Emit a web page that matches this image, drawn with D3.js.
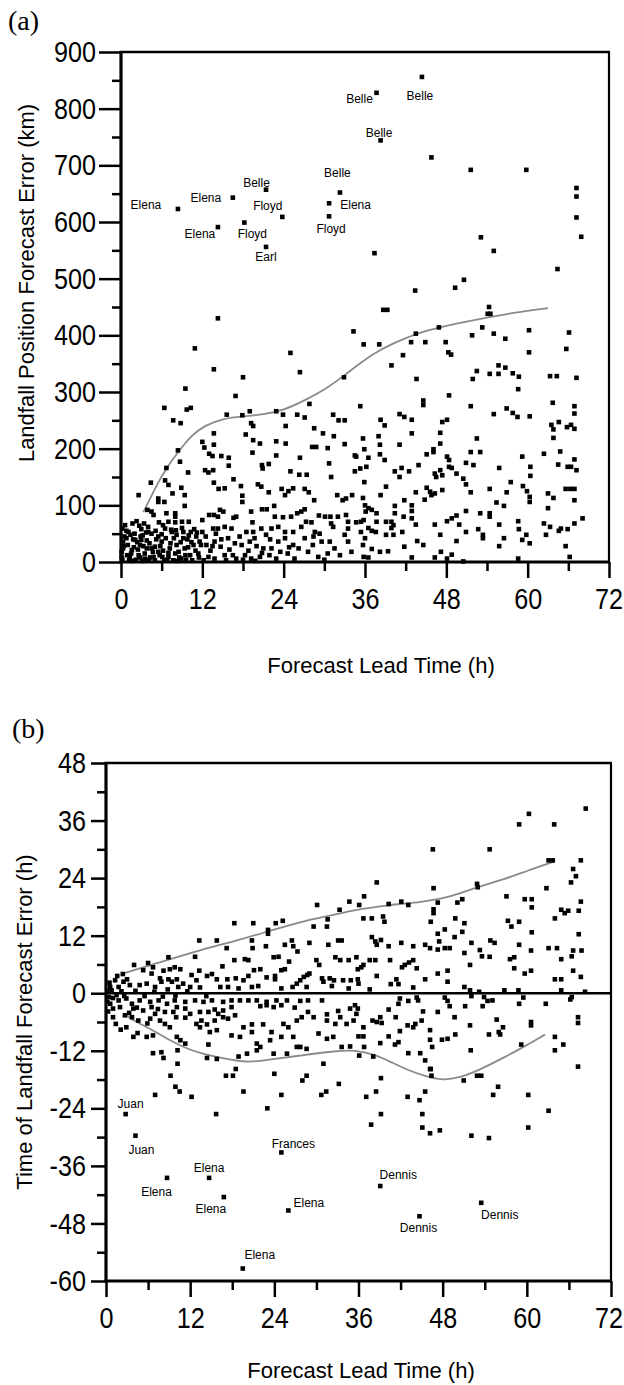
<!DOCTYPE html>
<html>
<head>
<meta charset="utf-8">
<script src="https://d3js.org/d3.v7.min.js"></script>
<style>
body { margin: 0; background: #fff; }
.tick text { font-family: "Liberation Sans", Arial, sans-serif; font-size: 30px; fill: #000; }
.ttl { font-family: "Liberation Sans", Arial, sans-serif; font-size: 22px; fill: #000; }
.storm { font-family: "Liberation Sans", Arial, sans-serif; font-size: 12px; fill: #000; }
.panel { font-family: "Liberation Serif", "Times New Roman", serif; font-size: 28px; fill: #000; }
</style>
</head>
<body>
<div id="chart"></div>
<script>
/* ---- PANEL (a): landfall position error (km) vs lead time (h) ---- */
var stormNamesA = ["Belle","Belle","Belle","Belle","Belle","Elena","Elena","Floyd","Elena","Elena","Floyd","Floyd","Earl"];
var stormPtsA = [[44.4,856],[37.7,828],[38.3,744],[32.3,652],[21.4,657],[16.5,643],[8.4,623],[23.8,609],[30.7,633],[14.3,591],[18.2,599],[30.7,610],[21.4,556]];

var upperA = [[45.8,714],[51.6,692],[59.8,692],[67.2,660],[67.2,645],[37.4,545],[53.1,573],[55,549],[64.4,517],[67.2,608],[67.9,574],
  [50.6,498],[49.3,484],[43.4,479],[14.3,430],[38.7,445],[39.3,445],[54.3,450],[54.1,438],[54.5,438],[34.3,407],[43.5,403],[46.9,414],
  [51.8,400],[53.3,414],[55,403],[56.7,394],[60.2,409],[66.1,405],[10.9,377],[25,369],[35.8,384],[38.1,384],[42.8,388],[44.9,388],
  [47.9,388],[48.3,370],[48.7,366],[41.6,365],[39.9,347],[55.7,347],[56.7,343],[60.2,370],[65.7,376],[13.7,340],[26.4,335],[18,326],
  [32.9,326],[43.6,323],[51.9,323],[52.5,337],[54.4,332],[55.7,332],[57.8,333],[58.7,327],[63.3,328],[64.3,328],[67.2,325]];

var midA = [[9.5,306],[16.9,293],[6.4,272],[9.7,269],[10.3,272],[35.3,275],[7.7,250],[8.8,245],[15.6,260],[17.9,259],[19,266],[22.9,266],
  [23.9,260],[26,260],[27.8,279],[27.1,255],[31.3,260],[32.1,250],[33,250],[13.7,227],[18.4,225],[19.2,245],[19.5,240],[24.3,240],
  [28.5,236],[29.8,227],[31.4,222],[12,212],[12.3,202],[13.7,207],[19.5,215],[20.5,209],[22.9,213],[24.3,209],[28.2,203],[28.8,203],
  [30.5,201],[33,208],[35.7,218],[8.4,197],[8.7,177],[13,191],[13.5,187],[14.8,187],[15.9,184],[15.9,170],[19.4,193],[20.8,171],
  [20.9,165],[21.8,173],[22.9,188],[26.4,184],[25,160],[26.3,154],[27.4,154],[30.7,174],[31,150],[34.5,188],[34.7,186],[34.5,160],
  [35.3,165],[6.7,166],[6.5,144],[7,136],[9.9,158],[12.4,162],[12.9,158],[13.6,162],[16.6,146],[13.7,140],[14.4,129],[15.3,130],
  [17.7,134],[17.9,117],[17.9,106],[20.2,137],[20.7,133],[21.8,123],[23.7,129],[24.2,118],[24.7,125],[25.4,130],[27.1,129],[27.7,123],
  [28.5,109],[31.9,118],[32.7,109],[33.2,112],[34.1,118],[35.7,113],[2.6,118],[4.4,140],[5.5,112],[5.5,106],[6.4,106],[7.6,121],
  [8.9,131],[9.4,118],[9.4,99],[3.9,92],[4.5,89],[4.8,83],[6.7,86],[8,86],[8,80],[7,71],[6.2,65],[8,70],[9,71],[10,71],[12,74],
  [13,83],[13.7,83],[14.3,80],[14.6,92],[15.1,89],[16.6,78],[17,80],[19.2,89],[19.4,70],[20.8,93],[21.5,93],[22.6,99],[22.7,80],
  [23.9,79],[25.1,80],[26,86],[26.6,89],[27.1,93],[28.1,70],[27.3,71],[29.2,82],[30.1,80],[30.9,80],[31,68],[32,80],[33.2,83],
  [33.5,71],[34.7,70],[35.4,71]];

var lowA = [[0.2,59],[1.1,53],[1.7,68],[2.7,64],[0.8,42],[2.1,39],[3,39],[4,53],[4.5,50],[5.5,45],[6.5,59],[7.5,53],[8.2,48],[9.2,53],
  [10.3,53],[11.1,45],[12,53],[13.6,59],[14.3,59],[15.3,62],[16.3,59],[18.5,53],[19.5,53],[20.7,59],[22.2,59],[23.2,62],[24.2,53],
  [25.4,53],[26.6,62],[28.6,53],[29.3,50],[31.3,62],[33.5,59],[35.4,53],[0.3,24],[1.6,21],[2.8,30],[3.8,24],[5,27],[6,36],[7.2,24],
  [8.2,30],[9.4,24],[10.7,30],[11.6,36],[12.6,30],[13.8,36],[14.7,27],[15.8,42],[16.8,33],[17.8,30],[19,36],[19.7,42],[21,24],
  [22.2,24],[23.2,36],[24.2,42],[25.4,30],[27.1,42],[28.3,30],[29.6,36],[30.8,36],[31.5,24],[33.5,36],[34,18],[35.7,30],[0.1,9],
  [1.3,9],[2.6,12],[3.5,6],[4.8,9],[5.7,12],[7,9],[8,15],[8.9,6],[10.2,12],[11.4,15],[12.9,9],[13.8,6],[15.3,12],[17,6],[18.3,12],
  [19.2,6],[20.5,9],[21.9,12],[22.9,6],[24.6,15],[25.6,6],[27.6,18],[29.1,9],[30.5,15],[0.5,45],[1,30],[1.5,15],[2,50],[2.5,22],
  [3.2,47],[3.5,15],[4.2,33],[5,3],[5.2,40],[6.2,20],[6.8,4],[7.8,42],[8.5,18],[9.8,40],[10.5,3],[11,20],[0.3,36],[1.2,3],[2.2,4],
  [3,58],[4,62],[4.7,18],[6,49],[7,16],[8.8,35],[9.5,12],[10,47],[11.5,8],[0.8,55],[1.8,40],[2.8,8],[3.8,38],[5.8,28],[7.4,57],
  [9,60],[10.8,58],[0.1,18],[12.5,45],[13.2,20],[14,50],[15.5,3],[16,22],[17.5,45],[18.8,20],[20,28],
  [0.4,28],[0.9,12],[1.4,48],[1.9,26],[2.4,35],[2.9,45],[3.3,28],[3.7,52],[4.3,8],[4.5,24],[5.1,55],[5.5,18],[6.1,9],[6.6,42],
  [7.3,33],[7.7,3],[8.1,56],[8.6,8],[9.2,42],[9.9,26],[10.4,35],[11.2,52],[11.8,30],[0.6,65],[2.3,72],[3.4,68],[5.6,70],[0.2,4],
  [1.7,2],[3.1,2],[4.1,4],[6.4,3],[8.3,2],[9.6,4],[12.2,3],[13.5,28],[14.8,40],[16.5,12],[18,4],[20.8,16],[22,40],[23.5,18],
  [26.2,24],[28.4,45],[30,4],[32.3,12],[33,48],[24.8,26],[21.4,48],[19.8,2]];

var rightA = [[58.6,305],[48.4,294],[44.6,285],[44.6,277],[51.6,275],[56.9,271],[57.8,263],[58.5,256],[55,261],[60.3,257],[63.7,281],
  [66.9,275],[66.9,262],[41.1,261],[41.8,256],[42.9,251],[38.3,251],[38.9,241],[47.4,247],[48.1,251],[38,222],[42.9,227],[47.1,228],
  [52.5,218],[63.5,242],[63.8,234],[64.6,247],[63.8,219],[65.8,238],[66.4,242],[66.9,235],[38.2,207],[35.9,199],[38.2,190],[38.9,180],
  [41.1,207],[47.1,209],[46.1,199],[46.1,194],[45.1,190],[51.6,194],[53,194],[48.1,186],[48.4,180],[59.2,186],[62.4,191],[64.8,195],
  [36.5,184],[36.2,168],[40.4,160],[41.4,166],[41.1,150],[42.5,160],[43.9,171],[46.3,156],[47.1,162],[46.5,150],[47.4,153],[48.4,168],
  [48.8,166],[49.5,156],[50.9,175],[52,171],[55.8,166],[60.4,168],[60.4,152],[64.5,172],[65.9,168],[66.4,168],[67.2,162],[66.9,181],
  [35.9,141],[50.5,147],[50.9,137],[57.5,141],[59.3,134],[59.9,125],[60.3,115],[60.3,106],[39.1,133],[38.3,118],[43.5,123],[45.1,131],
  [45.6,124],[44.8,110],[45.8,118],[46.3,121],[47.4,127],[41.8,109],[40.4,99],[42.9,100],[42.9,90],[51.6,123],[54.4,129],[56.9,123],
  [55.4,105],[56.5,99],[63,121],[63.8,113],[63,95],[65.6,129],[66.3,129],[66.9,129],[66.9,109],[36,100],[36.5,95],[36.1,89],[37,92],
  [37.7,86],[40.4,86],[41.7,80],[42.9,77],[50.9,90],[53,86],[54.4,86],[54.4,80],[68.1,77],[35.8,74],[36.5,60],[37,55],[37.7,71],
  [37.6,53],[36,42],[39.1,71],[39.9,71],[40.2,65],[39.9,60],[39.1,48],[40.2,48],[41.5,53],[43.5,66],[46.3,66],[47.1,48],[48.1,72],
  [48.8,77],[49.5,82],[49.9,66],[50.9,53],[52.7,58],[53.4,48],[53.4,42],[55.8,66],[56.5,42],[58.6,72],[58.7,58],[59.2,39],[59.8,48],
  [60.3,33],[62.4,68],[63.3,62],[62.7,48],[64.6,55],[64.9,59],[65.9,58],[66.9,68],[49.5,37],[43.7,37],[44.6,30],[41.8,27],[37,23],
  [38.2,18],[39.4,19],[47.2,18],[48.8,13],[55.8,28],[65.6,28],[35.8,9],[36.5,8],[42.9,8],[46.3,8],[48.1,6],[50.5,1],[58.6,6],[66.2,9]];

var curveA = [[3.3,88],[5.5,141],[6.5,162],[8.4,194],[10.4,224],[12.4,241],[15,253],[18,257],[21,260],[24,268],[26.6,282],[30.5,307],
  [33,330],[37.3,369],[40,385],[43.5,403],[47,414],[50,422],[54.3,432],[58,440],[63,448]];

/* ---- PANEL (b): landfall timing error (h) vs lead time (h) ---- */
var stormNamesB = ["Juan","Juan","Frances","Elena","Elena","Elena","Elena","Dennis","Dennis","Dennis","Elena"];
var stormPtsB = [[2.8,-25.2],[4.2,-29.7],[25,-33.2],[14.7,-38.5],[8.7,-38.5],[16.8,-42.5],[26,-45.3],[39.1,-40.2],[53.5,-43.7],[44.7,-46.5],[19.5,-57.4]];

var topB = [[46.6,30.0],[54.7,30.0],[58.9,35.2],[60.3,37.4],[63.9,35.2],[68.4,38.5],[63.1,27.7],[63.7,27.7],[67.7,27.7],[66.6,25.9],[67.0,24.4]];

var leftB = [[30.1,18.4],[34.7,19.1],[33.3,17.4],[18.3,14.6],[21.0,14.6],[24.2,14.6],[25.2,15.1],[29.6,13.9],[31.5,13.9],[31.6,15.4],
  [23.1,13.2],[23.1,12.4],[13.3,11.0],[15.8,11.0],[17.2,9.4],[20.8,11.0],[20.9,9.4],[22.8,9.8],[25.5,10.1],[26.5,11.0],[26.7,9.8],
  [27.3,8.7],[29.0,10.5],[31.7,10.1],[33.1,11.0],[33.6,11.0],[8.9,7.5],[12.7,7.6],[18.3,6.9],[19.8,7.1],[20.3,6.9],[23.9,7.5],[24.6,7.6],
  [26.1,6.6],[30.0,6.9],[30.4,5.9],[32.7,7.5],[33.4,6.9],[34.6,6.9],[2.4,4.0],[5.3,4.8],[6.7,5.4],[6.5,4.1],[8.2,4.7],[9.1,5.0],[9.8,5.4],
  [10.6,5.0],[7.7,3.1],[8.9,2.9],[9.4,2.4],[10.1,2.9],[11.0,2.0],[13.3,4.7],[14.4,3.6],[15.1,4.0],[12.9,2.7],[15.8,2.9],[17.3,2.9],
  [18.5,3.1],[19.6,2.7],[20.3,3.6],[21.1,4.8],[22.0,5.0],[22.9,3.3],[24.1,3.6],[24.1,2.9],[25.0,4.8],[25.5,5.0],[26.6,1.3],[27.2,2.0],
  [27.7,2.7],[28.2,3.4],[28.7,3.8],[29.0,4.1],[30.8,3.1],[31.0,2.4],[31.9,3.1],[32.5,2.7],[33.8,2.7],[34.9,2.7],[32.2,1.5],[34.6,1.0],
  [20.8,1.3],[21.7,1.5],[1.3,2.7],[2.5,2.4],[3.4,1.7],[0.6,1.3],[1.8,1.3],[4.8,1.7],[5.8,2.0],[7.0,1.3],[7.9,2.4],[10.3,1.3],[12.0,1.3],
  [13.4,1.2],[16.3,1.3],[17.4,1.3],[18.9,1.0],[25.0,1.0],[28.6,1.3],[0.2,0.5],[0.4,-0.8],[0.8,0.6],[1.5,-0.4],[2.2,0.4],[0.3,-3.8],
  [0.5,2.2],[1.0,-1.0],[2.6,-0.6],[0.2,-1.8],
  [0.6,-2.2],[1.8,-1.5],[2.9,-1.1],[3.7,-2.2],[4.8,-1.5],[6.3,-1.8],[7.5,-1.5],[8.7,-2.2],[9.8,-1.5],[11.3,-1.8],[12.7,-1.5],[13.9,-1.8],
  [15.1,-1.5],[16.7,-1.8],[17.9,-1.5],[19.1,-1.5],[20.3,-1.5],[21.5,-1.5],[22.9,-1.8],[24.3,-1.5],[25.8,-1.5],[27.7,-1.6],[28.8,-1.5],
  [30.8,-1.5],[1.0,-3.2],[2.0,-2.9],[3.9,-3.2],[5.3,-3.6],[6.5,-2.9],[7.0,-4.3],[8.4,-3.9],[9.6,-3.9],[10.1,-2.9],[11.3,-3.2],[12.0,-4.3],
  [13.4,-3.9],[14.6,-3.9],[15.5,-3.4],[16.0,-4.3],[16.7,-3.6],[17.9,-2.9],[22.0,-2.7],[22.9,-2.5],[23.9,-2.9],[25.0,-2.5],[26.9,-3.0],
  [28.8,-3.9],[31.5,-4.4],[33.1,-3.7],[34.8,-3.2],[1.0,-5.0],[2.7,-4.6],[3.7,-5.0],[4.6,-5.7],[6.3,-5.3],[7.7,-5.7],[8.4,-6.4],
  [9.1,-7.1],[10.0,-5.0],[11.3,-5.1],[12.9,-6.4],[13.6,-5.7],[14.4,-6.5],[15.5,-5.7],[16.7,-5.0],[17.4,-5.3],[18.4,-4.6],[19.6,-7.1],
  [20.8,-6.5],[22.4,-6.5],[23.6,-8.1],[25.3,-6.4],[26.0,-7.1],[27.2,-5.7],[27.9,-5.0],[29.6,-5.0],[31.5,-5.7],[32.7,-6.4],[33.4,-5.0],
  [34.3,-6.4],[35.3,-5.7],[2.9,-7.1],[3.9,-9.1],[4.5,-8.3],[5.8,-9.1],[6.7,-8.8],[10.1,-9.1],[10.6,-9.8],[11.3,-10.5],[13.4,-7.1],
  [14.6,-10.7],[14.8,-8.1],[15.8,-7.7],[17.9,-8.8],[19.1,-9.1],[20.8,-8.1],[21.5,-10.5],[23.4,-9.8],[25.0,-9.1],[26.7,-9.1],[27.7,-11.2],
  [28.6,-11.6],[30.3,-8.4],[31.5,-9.5],[32.4,-9.1],[33.6,-11.2],[34.8,-11.1],[6.7,-12.5],[7.9,-12.3],[8.2,-13.5],[10.2,-11.9],[10.2,-14.7],
  [14.4,-13.5],[15.8,-13.7],[18.9,-13.2],[20.1,-12.6],[21.5,-11.9],[22.0,-11.2],[23.9,-12.6],[25.8,-12.6],[27.2,-11.2],[31.0,-14.7],
  [1.6,3.6],[3.0,2.9],[4.2,0.5],[5.5,-0.6],[6.9,0.3],[8.1,-0.7],[3.3,-4.1],[4.4,-3.0],[5.9,-6.3],[7.4,-3.3],[1.4,-6.4],[2.1,-7.6],
  [8.8,0.8],[11.6,0.4],[14.3,-0.6],[9.9,-0.5],[12.2,3.8],[16.6,5.6],[6.0,6.3],[4.0,5.9]];

var rightB = [[38.6,23.1],[46.7,21.9],[52.9,22.8],[53.0,22.1],[62.8,21.9],[66.3,23.1],[36.8,20.2],[36.1,18.4],[40.3,18.6],[42.1,19.1],
  [43.1,18.4],[47.3,18.9],[50.1,18.9],[50.8,19.6],[46.7,17.5],[46.7,16.7],[57.1,20.2],[59.7,19.6],[60.7,19.6],[60.7,17.9],[67.7,19.1],
  [67.4,17.2],[64.9,17.4],[65.4,16.7],[65.9,17.2],[36.7,15.6],[37.9,15.6],[39.5,16.0],[39.7,14.9],[46.3,14.9],[49.8,15.6],[51.1,14.6],
  [57.3,15.1],[57.8,13.9],[58.9,14.9],[64.0,15.6],[60.7,12.7],[67.4,12.3],[47.3,12.4],[48.3,13.3],[50.8,12.8],[49.7,11.7],[37.9,11.7],
  [38.4,10.8],[38.6,10.1],[39.2,11.1],[40.3,9.8],[42.1,10.5],[43.8,9.8],[45.5,10.1],[46.2,9.4],[47.3,9.1],[47.5,10.8],[48.3,9.4],
  [49.0,9.4],[51.1,8.4],[52.1,10.5],[53.3,9.0],[53.6,7.7],[54.8,11.0],[55.4,10.5],[54.7,7.6],[58.9,10.1],[60.6,8.9],[63.1,9.4],
  [64.3,9.4],[66.6,8.9],[66.4,7.7],[67.8,8.9],[64.9,7.1],[35.7,7.5],[36.4,5.4],[35.9,5.0],[37.6,6.9],[38.4,6.9],[36.7,5.9],[40.5,6.9],
  [42.2,5.4],[42.6,5.9],[43.2,6.4],[43.8,6.9],[44.3,5.2],[45.5,2.9],[47.3,4.1],[48.7,4.7],[48.7,2.4],[51.9,5.9],[57.6,7.1],[58.2,7.5],
  [58.2,5.2],[59.7,4.1],[60.6,4.7],[64.0,2.9],[64.9,2.9],[66.6,4.7],[67.7,3.4],[35.9,2.9],[36.0,2.0],[38.6,3.6],[40.6,1.9],[41.4,2.9],
  [41.7,1.9],[43.8,1.2],[37.6,0.8],[51.1,1.3],[51.9,0.6],[53.2,0.3],[56.8,0.6],[58.8,0.6],[64.9,0.6],[68.3,0.3],
  [41.9,-1.1],[41.7,-2.2],[43.1,-1.6],[44.3,-0.9],[44.5,-1.5],[48.3,-0.9],[48.7,-1.6],[49.0,-2.7],[52.1,-0.6],[53.7,-2.7],[53.9,-0.8],
  [54.4,-1.6],[55.1,-1.5],[58.9,-2.2],[59.5,-0.9],[62.7,-2.2],[66.2,-1.3],[66.4,-0.8],[35.5,-2.5],[35.9,-3.2],[35.7,-4.3],[40.3,-3.4],
  [51.2,-2.7],[45.2,-3.8],[47.3,-3.9],[49.7,-5.0],[55.7,-5.5],[36.7,-7.1],[38.0,-5.7],[38.6,-6.0],[39.1,-5.0],[39.3,-6.2],[41.3,-5.0],
  [45.0,-5.7],[43.0,-6.7],[43.8,-7.1],[44.1,-6.4],[51.9,-6.7],[60.6,-6.0],[60.6,-6.7],[56.6,-7.1],[56.0,-8.1],[56.2,-8.6],[67.3,-5.0],
  [67.3,-6.2],[41.9,-7.9],[46.2,-7.7],[46.2,-9.7],[49.8,-8.6],[48.7,-9.5],[47.9,-9.7],[54.6,-8.6],[36.0,-9.0],[36.7,-9.0],[40.3,-9.0],
  [39.1,-10.4],[41.2,-10.7],[41.7,-10.2],[46.5,-11.2],[59.2,-10.7],[64.0,-9.1],[65.2,-10.7],[64.0,-11.9],[36.8,-11.2],[38.1,-13.2],
  [43.1,-12.5],[44.8,-12.5],[45.5,-14.0],[52.0,-11.9],[46.2,-15.8],[67.3,-15.3],[36.1,-13.0]];

var lowB = [[9.2,-17.2],[17.1,-17.2],[18.1,-17.2],[18.5,-15.8],[24.0,-16.8],[28.0,-18.2],[28.6,-17.2],[33.2,-18.9],[9.9,-19.5],[10.5,-20.5],
  [12.2,-21.6],[7.0,-21.2],[19.6,-20.5],[25.0,-21.2],[30.7,-21.2],[31.4,-20.5],[37.1,-21.6],[38.5,-20.5],[39.2,-17.7],[43.0,-21.6],
  [44.7,-22.3],[45.5,-20.5],[46.4,-17.2],[46.3,-15.8],[51.0,-18.2],[52.9,-17.2],[53.5,-17.2],[55.2,-21.2],[55.9,-19.5],[60.2,-21.2],
  [63.1,-24.5],[15.7,-25.2],[23.0,-24.0],[37.8,-27.4],[39.2,-25.2],[45.1,-25.2],[45.1,-28.0],[46.2,-29.2],[47.6,-28.6],[52.1,-29.7],
  [54.6,-30.2],[60.2,-28.0]];

var curveBUp = [[2.2,4.0],[8.7,6.9],[13.4,9.0],[18.2,10.8],[22.9,12.8],[27.7,14.9],[32.4,16.3],[35.5,17.4],[40.3,18.4],[45,19],[49,20],
  [52,21.7],[56.7,23.7],[60,25.5],[64,27.5]];
var curveBLow = [[2.9,-4.6],[3.9,-5.7],[6.3,-7.4],[8.7,-9.5],[11,-11.2],[13.4,-12.6],[18.2,-14.0],[20.5,-14.4],[22.9,-13.9],[27.7,-13.0],
  [32.4,-12.1],[35.5,-11.8],[38.4,-12.8],[40.7,-14.4],[43.1,-16.1],[45.5,-17.3],[47.9,-18.2],[50.5,-17.6],[53.1,-16.1],[56.9,-13.3],
  [59.8,-11.0],[62.6,-8.6]];

/* label placement (offset of label centre from its point, px) */
var labelOffA = [[-2,19],[-17,6],[-1.5,-8],[-2.5,-20],[-9.5,-7],[-27,0],[-32,-4],[-14.5,-11],[26.5,1],[-18,7],[8,11],[2,12],[0,10]];
var labelOffB = [[5,-10.5],[6,14],[12,-8.5],[0,-10],[-10.5,14],[-13,11.5],[20.5,-7.5],[18,-11],[18.5,12],[-1,11.5],[17,-14]];

/* SVG */
var W = 624;
var svg = d3.select("#chart").append("svg").attr("width", W).attr("height", 1385);

function drawPanel(p) {
    var x = p.x, y = p.y;
    var x0 = x.range()[0], x1 = x.range()[1];
    var y0 = y.range()[0], y1 = y.range()[1];
    var g = svg.append("g");

    // y axis: minor + major ticks
    g.append("g").attr("transform", "translate(" + x0 + ",0)")
        .call(d3.axisLeft(y).tickValues(p.yMinor).tickSize(9).tickFormat("").tickSizeOuter(0));
    g.append("g").attr("transform", "translate(" + x0 + ",0)")
        .call(d3.axisLeft(y).tickValues(p.yMajor).tickSize(p.yTick).tickPadding(p.yPad)
            .tickFormat(function(d) { return String(d); }).tickSizeOuter(0));
    // x axis: minor + major ticks
    g.append("g").attr("transform", "translate(0," + y0 + ")")
        .call(d3.axisBottom(x).tickValues(d3.range(6, 72, 12)).tickSize(9).tickFormat("").tickSizeOuter(0));
    g.append("g").attr("transform", "translate(0," + y0 + ")")
        .call(d3.axisBottom(x).tickValues(d3.range(0, 73, 12)).tickSize(16).tickPadding(10).tickSizeOuter(0));

    g.selectAll(".domain").remove();
    g.selectAll(".tick line").attr("stroke", "#000").attr("stroke-width", 2.5);

    // condensed numerals: squeeze each label horizontally about its anchor,
    // and nudge any label that would run past the right edge
    g.selectAll(".tick text").each(function() {
        var ax = +d3.select(this).attr("x") || 0;
        d3.select(this).attr("transform",
            "translate(" + ax + ",0) scale(0.84,1) translate(" + (-ax) + ",0)");
        var r = this.getBoundingClientRect();
        if (r.right > W - 1) {
            d3.select(this).attr("dx", -(r.right - (W - 1)) / 0.84);
        }
    });

    // frame
    g.append("line").attr("x1", x0).attr("x2", x0).attr("y1", y0 + 1.5).attr("y2", y1 - 1)
        .attr("stroke", "#000").attr("stroke-width", 3.2);
    g.append("line").attr("x1", x0 - 1.5).attr("x2", x1 + 1).attr("y1", y0).attr("y2", y0)
        .attr("stroke", "#000").attr("stroke-width", 3.2);
    g.append("line").attr("x1", x0 - 1.5).attr("x2", x1 + 1).attr("y1", y1).attr("y2", y1)
        .attr("stroke", "#000").attr("stroke-width", 2.6);
    g.append("line").attr("x1", x1).attr("x2", x1).attr("y1", y1).attr("y2", y0)
        .attr("stroke", "#000").attr("stroke-width", 2.2);

    if (p.zeroLine) {
        g.append("line").attr("x1", x0).attr("x2", x1).attr("y1", y(0)).attr("y2", y(0))
            .attr("stroke", "#000").attr("stroke-width", 2.6);
    }

    // smoothed curves
    var line = d3.line().x(function(d) { return x(d[0]); }).y(function(d) { return y(d[1]); })
        .curve(d3.curveBasis);
    p.curves.forEach(function(c) {
        g.append("path").attr("d", line(c)).attr("fill", "none")
            .attr("stroke", "#8a8a8a").attr("stroke-width", 1.8);
    });

    // points
    var s = 4.6;
    g.selectAll("rect.pt").data(p.points).enter().append("rect")
        .attr("class", "pt")
        .attr("x", function(d) { return x(d[0]) - s / 2; })
        .attr("y", function(d) { return y(d[1]) - s / 2; })
        .attr("width", s).attr("height", s).attr("fill", "#000");

    // storm labels
    g.selectAll("text.storm").data(p.storms).enter().append("text")
        .attr("class", "storm")
        .attr("text-anchor", "middle")
        .attr("x", function(d, i) { return x(d[0]) + p.offs[i][0]; })
        .attr("y", function(d, i) { return y(d[1]) + p.offs[i][1]; })
        .attr("dy", "0.35em")
        .text(function(d, i) { return p.names[i]; });

    // titles
    g.append("text").attr("class", "ttl").attr("text-anchor", "middle")
        .attr("transform", "translate(" + p.yTitlePos[0] + "," + p.yTitlePos[1] + ") rotate(-90)")
        .text(p.yTitle);
    g.append("text").attr("class", "ttl").attr("text-anchor", "middle")
        .attr("x", p.xTitlePos[0]).attr("y", p.xTitlePos[1])
        .text("Forecast Lead Time (h)");
    g.append("text").attr("class", "panel")
        .attr("x", p.tagPos[0]).attr("y", p.tagPos[1]).text(p.tag);
}

drawPanel({
    x: d3.scaleLinear().domain([0, 72]).range([121, 609]),
    y: d3.scaleLinear().domain([0, 900]).range([562, 52]),
    yMajor: d3.range(0, 901, 100),
    yMinor: d3.range(50, 900, 100),
    yTick: 22, yPad: 3,
    points: upperA.concat(midA, lowA, rightA, stormPtsA),
    storms: stormPtsA, names: stormNamesA, offs: labelOffA,
    curves: [curveA],
    yTitle: "Landfall Position Forecast Error (km)",
    yTitlePos: [34, 283], xTitlePos: [381, 673],
    tag: "(a)", tagPos: [8, 30]
});

drawPanel({
    x: d3.scaleLinear().domain([0, 72]).range([106, 611]),
    y: d3.scaleLinear().domain([-60, 48]).range([1281, 763]),
    yMajor: d3.range(-60, 49, 12),
    yMinor: d3.range(-54, 48, 12),
    yTick: 15, yPad: 5,
    zeroLine: true,
    points: topB.concat(leftB, rightB, lowB, stormPtsB),
    storms: stormPtsB, names: stormNamesB, offs: labelOffB,
    curves: [curveBUp, curveBLow],
    yTitle: "Time of Landfall Forecast Error (h)",
    yTitlePos: [32, 1022], xTitlePos: [361, 1378],
    tag: "(b)", tagPos: [12, 738]
});
</script>
</body>
</html>
